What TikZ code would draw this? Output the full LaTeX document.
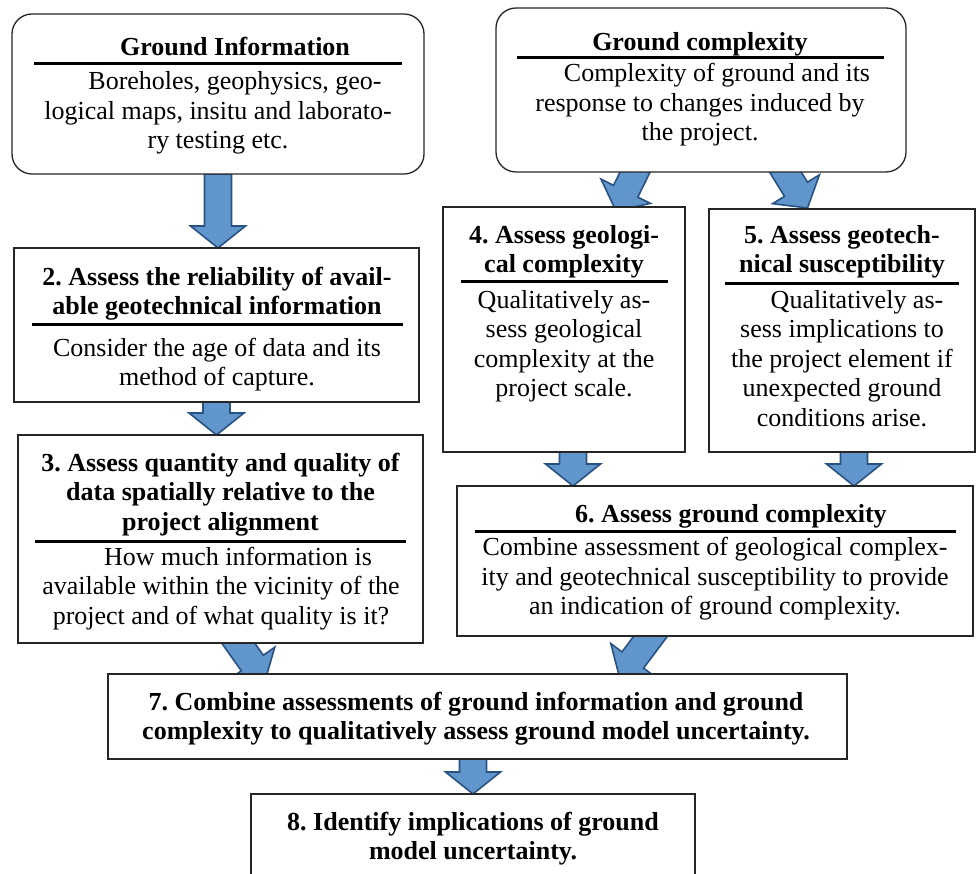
\documentclass[tikz,border=0pt]{standalone}
\usepackage{fontspec}
\setmainfont{Liberation Serif}
\usetikzlibrary{calc}
\pgfdeclarelayer{background}
\pgfsetlayers{background,main}
\definecolor{afill}{RGB}{96,150,203}
\definecolor{aedge}{RGB}{41,82,130}
\newcommand\arrSW{13.5pt}
\newcommand\arrHW{27.5pt}
\newcommand\arrHL{22pt}
\newcommand\nl{\\\strut}
\newcommand\blockarrow[2]{%
  \draw[barrow]
    ($(#1)!\arrSW!90:(#2)$) --
    ($(#2)!\arrHL!(#1)!\arrSW!-90:(#1)$) --
    ($(#2)!\arrHL!(#1)!\arrHW!-90:(#1)$) --
    (#2) --
    ($(#2)!\arrHL!(#1)!\arrHW!90:(#1)$) --
    ($(#2)!\arrHL!(#1)!\arrSW!90:(#1)$) --
    ($(#1)!\arrSW!-90:(#2)$) -- cycle;}
\frenchspacing
\begin{document}
\begin{tikzpicture}[x=1pt,y=-1pt,
  box/.style={draw=black!85, line width=1.3pt, fill=white, inner sep=0pt, outer sep=0pt, anchor=north west},
  rbox/.style={box, rounded corners=20pt},
  txt/.style={align=center, inner sep=0pt, anchor=north, yshift=20.65pt, font=\fontsize{26}{29.5}\selectfont},
  btxt/.style={txt, font=\fontsize{26}{29.5}\selectfont\bfseries},
  rulel/.style={line width=3pt, black},
  barrow/.style={fill=afill, draw=aedge, line width=1.6pt, line join=miter}]
\useasboundingbox (0,0) rectangle (976,874);
\clip (0,0) rectangle (976,874);

% boxes
\node[rbox, minimum width=412pt, minimum height=160pt] (gi) at (12,14) {};
\node[rbox, minimum width=410pt, minimum height=164pt] (gc) at (496,8) {};
\node[box, minimum width=405pt, minimum height=154pt] (r2) at (14,248) {};
\node[box, minimum width=405pt, minimum height=208pt] (r3) at (18,435) {};
\node[box, minimum width=242pt, minimum height=245pt] (r4) at (443,207) {};
\node[box, minimum width=266pt, minimum height=243pt] (r5) at (709,209) {};
\node[box, minimum width=516pt, minimum height=150pt] (r6) at (457,486) {};
\node[box, minimum width=739pt, minimum height=85pt] (r7) at (108,674) {};
\node[box, minimum width=444pt, minimum height=120pt] (r8) at (251,794) {};

% texts
\node[btxt] (gih) at (218,55) {\strut\hspace*{34pt}Ground Information};
\draw[rulel] (34,64) -- (402,64);
\node[txt] (gib) at (218,89.5) {\strut\hspace*{34pt}Boreholes, geophysics, geo-\nl logical maps, insitu and laborato-\nl ry testing etc.};

\node[btxt] (gch) at (700,50) {\strut Ground complexity};
\draw[rulel] (517,58) -- (884,58);
\node[txt] (gcb) at (700,81.5) {\strut\hspace*{34pt}Complexity of ground and its\nl response to changes induced by\nl the project.};

\node[btxt] (r2h) at (217,285) {\strut 2. Assess the reliability of avail-\nl able geotechnical information};
\draw[rulel] (32,324) -- (403,324);
\node[txt] (r2b) at (217,356) {\strut Consider the age of data and its\nl method of capture.};

\node[btxt] (r3h) at (220.5,471) {\strut 3. Assess quantity and quality of\nl data spatially relative to the\nl project alignment};
\draw[rulel] (35,541) -- (406,541);
\node[txt] (r3b) at (221,565) {\strut\hspace*{34pt}How much information is\nl available within the vicinity of the\nl project and of what quality is it?};

\node[btxt] (r4h) at (564,243) {\strut 4. Assess geologi-\nl cal complexity};
\draw[rulel] (461,282) -- (668,282);
\node[txt] (r4b) at (564,308) {\strut Qualitatively as-\nl sess geological\nl complexity at the\nl project scale.};

\node[btxt] (r5h) at (842,243) {\strut 5. Assess geotech-\nl nical susceptibility};
\draw[rulel] (725,284) -- (959,284);
\node[txt] (r5b) at (842,308) {\strut\hspace*{30pt}Qualitatively as-\nl sess implications to\nl the project element if\nl unexpected ground\nl conditions arise.};

\node[btxt] (r6h) at (715,522) {\strut\hspace*{32pt}6. Assess ground complexity};
\draw[rulel] (475,531) -- (956,531);
\node[txt] (r6b) at (715,555.5) {\strut Combine assessment of geological complex-\nl ity and geotechnical susceptibility to provide\nl an indication of ground complexity.};

\node[btxt] (r7t) at (476,710) {\strut 7. Combine assessments of ground information and ground\nl complexity to qualitatively assess ground model uncertainty.};

\node[btxt] (r8t) at (473,830) {\strut 8. Identify implications of ground\nl model uncertainty.};

% arrow end points
\coordinate (a1e) at (gi.south |- r2.north);
\coordinate (a2e) at (r2.south |- r3.north);
\coordinate (a3s) at (641,160);
\coordinate (a3e) at (616,211);
\coordinate (a4s) at (778,160);
\coordinate (a4e) at (807.5,208);
\coordinate (a5s) at (573,452);
\coordinate (a5e) at (573,486);
\coordinate (a6s) at (854,452);
\coordinate (a6e) at (854,486);
\coordinate (a7s) at (229,630);
\coordinate (a7e) at (265,681);
\coordinate (a8s) at (659,625);
\coordinate (a8e) at (619.6,677.6);
\coordinate (a9s) at (r8.north |- r7.south);

\begin{pgfonlayer}{background}
\blockarrow{gi.south}{a1e}
\blockarrow{r2.south}{a2e}
\blockarrow{a3s}{a3e}
\blockarrow{a4s}{a4e}
\blockarrow{a5s}{a5e}
\blockarrow{a6s}{a6e}
\blockarrow{a7s}{a7e}
\blockarrow{a8s}{a8e}
\blockarrow{a9s}{r8.north}
\end{pgfonlayer}
\end{tikzpicture}
\end{document}
